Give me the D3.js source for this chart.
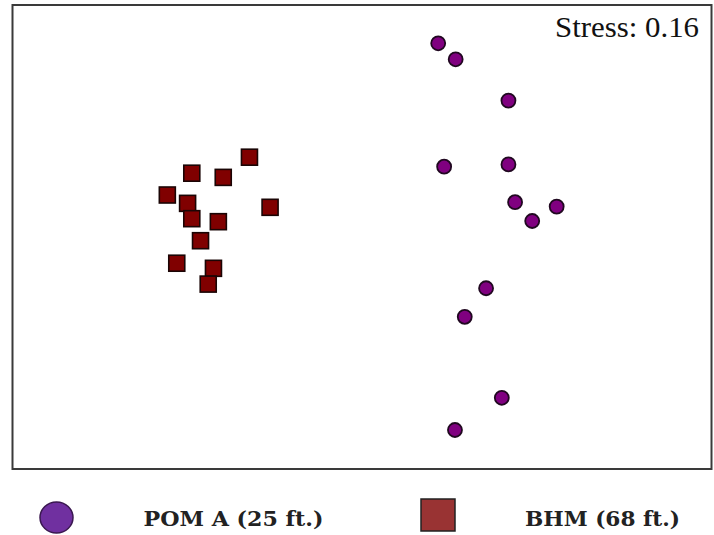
<!DOCTYPE html>
<html>
  <head>
    <script src="https://d3js.org/d3.v7.min.js"></script>
    <style>
      body { margin: 0; background: #fff; }
    </style>
  </head>
  <body>
    <div id="chart">
      <svg width="714" height="535"></svg>
    </div>

    <script>
      // NMDS ordination scores
      const pomX = [0.218, 0.268, 0.419, 0.235, 0.419, 0.438, 0.557, 0.487, 0.355, 0.294, 0.400, 0.266];
      const pomY = [0.835, 0.766, 0.588, 0.303, 0.313, 0.150, 0.131, 0.069, -0.221, -0.344, -0.693, -0.832];

      const bhmX = [-0.322, -0.487, -0.397, -0.557, -0.499, -0.487, -0.263, -0.411, -0.462, -0.530, -0.425, -0.440];
      const bhmY = [0.344, 0.275, 0.257, 0.181, 0.145, 0.079, 0.128, 0.066, -0.016, -0.113, -0.135, -0.203];

      const groups = ['POM A (25 ft.)', 'BHM (68 ft.)'];
      const stress = 0.16;

      const svg = d3.select('#chart').select('svg');

      const box = { left: 12.5, top: 5, right: 711.5, bottom: 469 };

      const x = d3.scaleLinear().domain([-1, 1]).range([box.left, box.right]);
      const y = d3.scaleLinear().domain([-1, 1]).range([box.bottom, box.top]);

      svg.append('rect')
        .attr('x', box.left)
        .attr('y', box.top)
        .attr('width', box.right - box.left)
        .attr('height', box.bottom - box.top)
        .attr('fill', 'white')
        .attr('stroke', '#3a3a3a')
        .attr('stroke-width', 2);

      svg.append('text')
        .attr('x', 555)
        .attr('y', 37)
        .attr('font-family', 'Liberation Serif, Times New Roman, serif')
        .attr('font-size', 30)
        .attr('fill', '#111')
        .attr('textLength', 144)
        .attr('lengthAdjust', 'spacingAndGlyphs')
        .text('Stress: ' + stress.toFixed(2));

      const squares = bhmX.map((d, i) => ({ x: d, y: bhmY[i] }));
      const circles = pomX.map((d, i) => ({ x: d, y: pomY[i] }));
      const sq = 16;

      svg.append('g')
        .selectAll('rect')
        .data(squares)
        .join('rect')
        .attr('x', d => x(d.x) - sq / 2)
        .attr('y', d => y(d.y) - sq / 2)
        .attr('width', sq)
        .attr('height', sq)
        .attr('fill', '#800000')
        .attr('stroke', '#1a0505')
        .attr('stroke-width', 1.6);

      svg.append('g')
        .selectAll('circle')
        .data(circles)
        .join('circle')
        .attr('cx', d => x(d.x))
        .attr('cy', d => y(d.y))
        .attr('r', 7)
        .attr('fill', '#800080')
        .attr('stroke', '#200820')
        .attr('stroke-width', 1.8);

      // legend
      const legend = svg.append('g');

      legend.append('ellipse')
        .attr('cx', 56.5)
        .attr('cy', 517.5)
        .attr('rx', 16.5)
        .attr('ry', 15.5)
        .attr('fill', '#7030a0')
        .attr('stroke', '#3a1850')
        .attr('stroke-width', 1.5);

      legend.append('rect')
        .attr('x', 421)
        .attr('y', 499)
        .attr('width', 34)
        .attr('height', 32)
        .attr('fill', '#993333')
        .attr('stroke', '#222')
        .attr('stroke-width', 1.5);

      const labelX = [143.5, 525];
      const labelW = [180, 155];

      legend.selectAll('text')
        .data(groups)
        .join('text')
        .attr('x', (d, i) => labelX[i])
        .attr('y', 526)
        .attr('font-family', 'DejaVu Serif, serif')
        .attr('font-weight', 'bold')
        .attr('font-size', 20)
        .attr('fill', '#222')
        .attr('textLength', (d, i) => labelW[i])
        .attr('lengthAdjust', 'spacingAndGlyphs')
        .text(d => d);
    </script>
  </body>
</html>
